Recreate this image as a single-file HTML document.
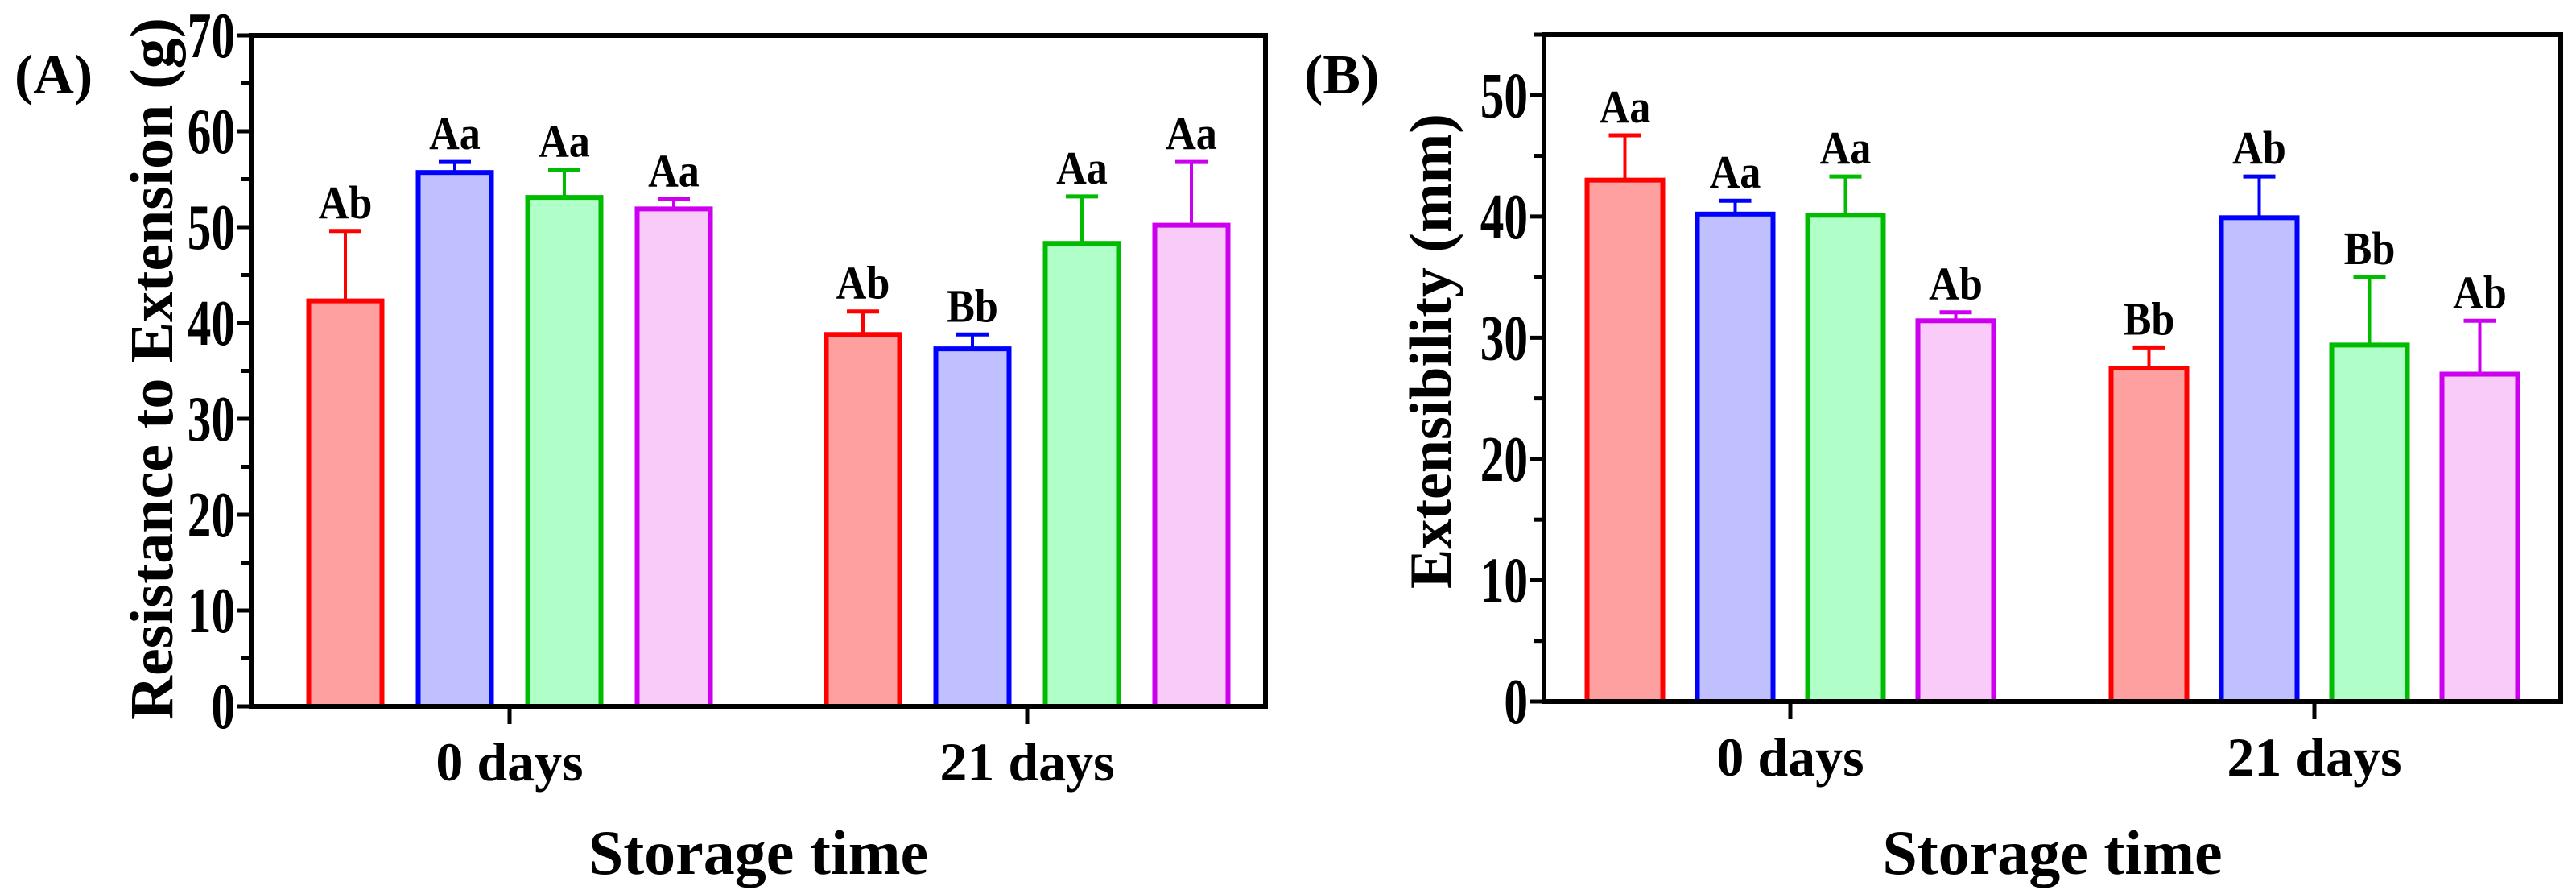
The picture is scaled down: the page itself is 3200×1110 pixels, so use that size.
<!DOCTYPE html>
<html><head><meta charset="utf-8"><style>
html,body{margin:0;padding:0;background:#fff;width:3200px;height:1110px;overflow:hidden}
text{font-family:"Liberation Serif","Times New Roman",serif;font-weight:bold;fill:#000}
</style></head><body>
<svg id="chart" width="3200" height="1110" viewBox="0 0 3200 1110" xmlns="http://www.w3.org/2000/svg"></svg>
<script>
const categories = ["0 days","21 days"];
const colors = ["#ff0000","#0000ff","#00bb00","#cc00ee"];
const fills = ["#ffa0a0","#c0c0ff","#b0ffc8","#f8cbf8"];
const aMeans0 = [42.3,55.7,53.1,51.9];
const aMeans21 = [38.8,37.3,48.3,50.2];
const aErr0 = [7.3,1.1,2.9,1.0];
const aErr21 = [2.4,1.5,4.9,6.6];
const aLetters0 = ["Ab","Aa","Aa","Aa"];
const aLetters21 = ["Ab","Bb","Aa","Aa"];
const aTicks = [0,10,20,30,40,50,60,70];
const bMeans0 = [43.0,40.2,40.1,31.4];
const bMeans21 = [27.5,39.9,29.4,27.0];
const bErr0 = [3.7,1.1,3.2,0.7];
const bErr21 = [1.7,3.4,5.6,4.4];
const bLetters0 = ["Aa","Aa","Aa","Ab"];
const bLetters21 = ["Bb","Ab","Bb","Ab"];
const bTicks = [0,10,20,30,40,50];

const svg = document.getElementById('chart');
const NS = "http://www.w3.org/2000/svg";
function mk(tag, attrs, parent){const e=document.createElementNS(NS,tag);for(const k in attrs)e.setAttribute(k,attrs[k]);(parent||svg).appendChild(e);return e;}

function panel(cfg){
  const g = mk('g',{});
  
  
  const y = v => cfg.y0 - (v/cfg.max)*(cfg.y0-cfg.top);
  const means=[cfg.m0,cfg.m21], errs=[cfg.e0,cfg.e21], lets=[cfg.l0,cfg.l21];
  categories.forEach((c,ci)=>{
    const cx = cfg.cx[ci];
    for(let s=0;s<4;s++){
      const bx = cx + (s-1.5)*cfg.pitch - cfg.bw/2;
      const v = means[ci][s], e = errs[ci][s];
      const top = y(v), et = y(v+e), mid = bx+cfg.bw/2;
      const el = mk('line',{x1:mid,x2:mid,y1:top,y2:et,stroke:colors[s],'stroke-width':4},g);
      
      
      const cap = mk('line',{x1:mid-20,x2:mid+20,y1:et,y2:et,stroke:colors[s],'stroke-width':5},g);
      
      
      const r = mk('rect',{x:bx,y:top,width:cfg.bw,height:cfg.y0-top,fill:fills[s],stroke:colors[s],'stroke-width':6},g);
      
      
      const t = mk('text',{x:0,y:0,'text-anchor':'middle','font-size':58,transform:`translate(${mid},${et-16}) scale(0.9,1)`},g);
      t.textContent = lets[ci][s];
      
      
    }
    const tk = mk('line',{x1:cx,x2:cx,y1:cfg.y0,y2:cfg.y0+22,stroke:'#000','stroke-width':5},g);
    
    
    const tl = mk('text',{x:cx,y:cfg.y0+92,'text-anchor':'middle','font-size':68},g);
    tl.textContent = c;
    
    
  });
  const fr = mk('rect',{x:cfg.x0,y:cfg.top,width:cfg.x1-cfg.x0,height:cfg.y0-cfg.top,fill:'none',stroke:'#000','stroke-width':6},g);
  
  
  for(let v=0; v<=cfg.max; v+=5){
    const major = v%10===0;
    const t = mk('line',{x1:cfg.x0-(major?18:12),x2:cfg.x0,y1:y(v),y2:y(v),stroke:'#000','stroke-width':5},g);
    
    
  }
  cfg.ticks.forEach(v=>{
    const t = mk('text',{x:0,y:0,'text-anchor':'end','font-size':80,transform:`translate(${cfg.x0-20},${y(v)+27}) scale(0.74,1)`},g);
    t.textContent = v;
    
    
  });
  const yt = mk('text',{x:0,y:0,'text-anchor':'middle','font-size':cfg.ytsize,transform:`translate(${cfg.ytx},${cfg.yty}) rotate(-90)`},g);
  yt.textContent = cfg.ytitle;
  
  
  const xt = mk('text',{x:(cfg.x0+cfg.x1)/2,y:1085,'text-anchor':'middle','font-size':78},g);
  xt.textContent = 'Storage time';
  
  
  const pl = mk('text',{x:cfg.plx,y:116,'font-size':70},g);
  pl.textContent = cfg.plabel;
  
  
}

panel({name:'panel-a',x0:312,x1:1572,top:44,y0:877,max:70,cx:[633,1276],pitch:136,bw:91,
  m0:aMeans0,m21:aMeans21,e0:aErr0,e21:aErr21,l0:aLetters0,l21:aLetters21,ticks:aTicks,
  ytitle:'Resistance to Extension (g)',ytsize:76,ytx:214,yty:458,plabel:'(A)',plx:18});
panel({name:'panel-b',x0:1918,x1:3181,top:43,y0:871,max:55,cx:[2224,2875],pitch:137,bw:94,
  m0:bMeans0,m21:bMeans21,e0:bErr0,e21:bErr21,l0:bLetters0,l21:bLetters21,ticks:bTicks,
  ytitle:'Extensibility (mm)',ytsize:74,ytx:1802,yty:436,plabel:'(B)',plx:1620});
</script>
</body></html>
